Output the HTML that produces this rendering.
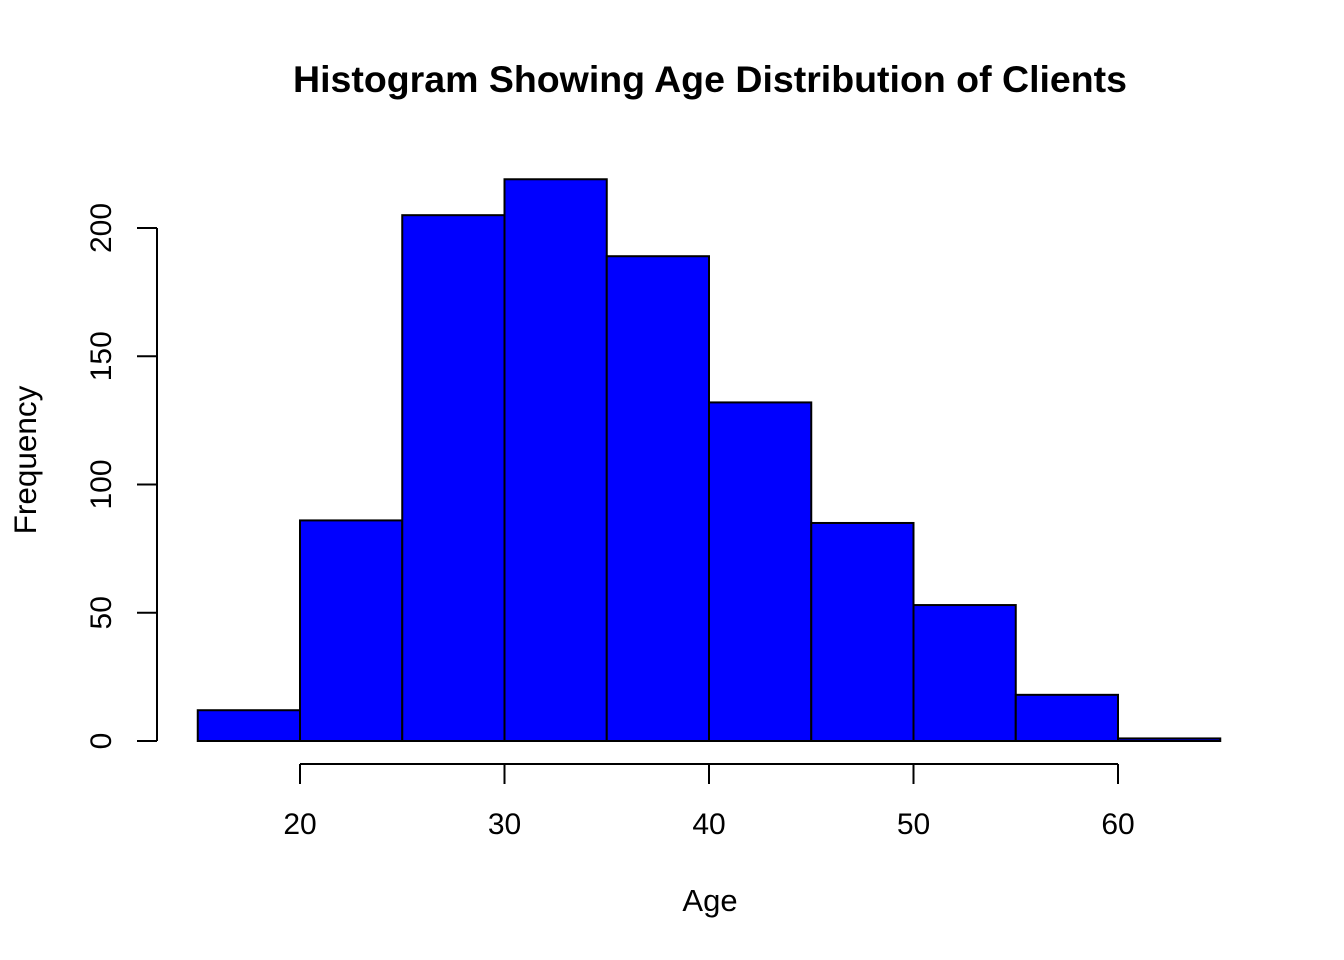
<!DOCTYPE html>
<html><head><meta charset="utf-8"><style>body{margin:0;background:#fff}svg{display:block;font-family:"Liberation Sans",Arial,sans-serif}</style></head>
<body>
<svg id="chart" width="1344" height="960">
<text x="710" y="92" text-anchor="middle" font-size="37.5" font-weight="bold">Histogram Showing Age Distribution of Clients</text>
<text x="710" y="911" text-anchor="middle" font-size="31">Age</text>
<text transform="translate(36,460) rotate(-90)" text-anchor="middle" font-size="31.5">Frequency</text>
<g id="bars"></g><g id="axes"></g>
</svg>
<script>
const binStarts=[15,20,25,30,35,40,45,50,55,60];
const counts=[12,86,205,219,189,132,85,53,18,1];
const binWidth=5;
const xTicks=[20,30,40,50,60];
const yTicks=[0,50,100,150,200];
const NS="http://www.w3.org/2000/svg";
const xs=v=>300+(v-20)*(818/40);
const ys=v=>741-v*2.565;
const bars=document.getElementById('bars'),axes=document.getElementById('axes');
function mk(p,tag,a){const e=document.createElementNS(NS,tag);for(const k in a)e.setAttribute(k,a[k]);p.appendChild(e);return e;}
binStarts.forEach((s,i)=>{
 const r=mk(bars,'rect',{x:xs(s),y:ys(counts[i]),width:xs(s+binWidth)-xs(s),height:ys(0)-ys(counts[i]),fill:'#0000ff',stroke:'#000','stroke-width':2});
 
 
});
const xl=mk(axes,'line',{x1:xs(xTicks[0]),x2:xs(xTicks[xTicks.length-1]),y1:764,y2:764,stroke:'#000','stroke-width':2});


xTicks.forEach(t=>{
 const l=mk(axes,'line',{x1:xs(t),x2:xs(t),y1:764,y2:784,stroke:'#000','stroke-width':2});
 
 
 const tx=mk(axes,'text',{x:xs(t),y:834,'text-anchor':'middle','font-size':30});
 tx.textContent=t;
 
 
});
const yl=mk(axes,'line',{x1:157,x2:157,y1:ys(yTicks[0]),y2:ys(yTicks[yTicks.length-1]),stroke:'#000','stroke-width':2});


yTicks.forEach(t=>{
 const l=mk(axes,'line',{x1:137,x2:157,y1:ys(t),y2:ys(t),stroke:'#000','stroke-width':2});
 
 
 const tx=mk(axes,'text',{transform:'translate(111,'+ys(t)+') rotate(-90)','text-anchor':'middle','font-size':30});
 tx.textContent=t;
 
 
});
</script>
</body></html>
